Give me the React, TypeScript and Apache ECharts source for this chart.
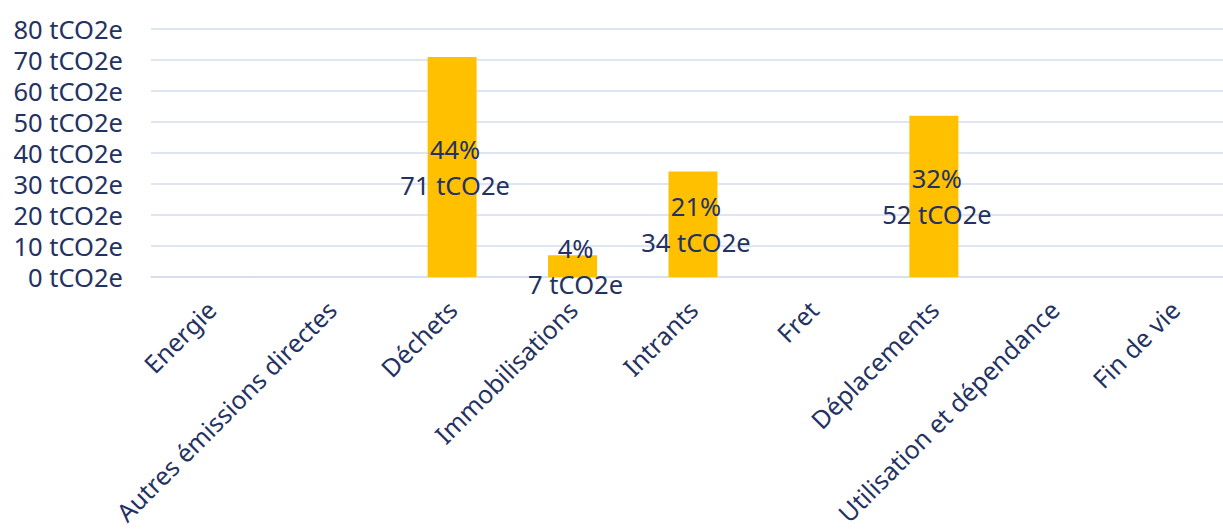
import React, { useEffect, useRef } from "react";
import * as echarts from "echarts";

const categories = [
  "Energie",
  "Autres émissions directes",
  "Déchets",
  "Immobilisations",
  "Intrants",
  "Fret",
  "Déplacements",
  "Utilisation et dépendance",
  "Fin de vie",
];
const values: (number | null)[] = [null, null, 71, 7, 34, null, 52, null, null];
const percents: (string | null)[] = [null, null, "44%", "4%", "21%", null, "32%", null, null];
const yTicks = [0, 10, 20, 30, 40, 50, 60, 70, 80];

const TEXT = "#243262";
const GRID = "#D6DCEE";
const BAR = "#FFC000";
const FONT = "Noto Sans";

export default function App() {
  const ref = useRef<HTMLDivElement>(null);
  useEffect(() => {
    if (!ref.current) return;
    const chart = echarts.init(ref.current, null, { renderer: "svg" });
    chart.setOption({
      animation: false,
      grid: {
        left: 151,
        right: 5,
        top: 29,
        bottom: 252,
        containLabel: false,
        outerBoundsMode: "none",
      },
      xAxis: {
        type: "category",
        data: categories,
        axisLine: { show: true, lineStyle: { color: GRID, width: 1.5 } },
        axisTick: { show: false },
        axisLabel: {
          rotate: 45,
          interval: 0,
          margin: 28,
          color: TEXT,
          fontFamily: FONT,
          fontSize: 25,
        },
      },
      yAxis: {
        type: "value",
        min: yTicks[0],
        max: yTicks[yTicks.length - 1],
        interval: 10,
        axisLine: { show: false },
        axisTick: { show: false },
        splitLine: { lineStyle: { color: GRID, width: 1.5 } },
        axisLabel: {
          margin: 28,
          color: TEXT,
          fontFamily: FONT,
          fontSize: 25.5,
          formatter: (v: number) => `${v} tCO2e`,
        },
      },
      series: [
        {
          type: "bar",
          data: values,
          barWidth: 49,
          itemStyle: { color: BAR },
          label: {
            show: true,
            position: "inside",
            offset: [3, 0],
            color: TEXT,
            fontFamily: FONT,
            fontSize: 25.5,
            lineHeight: 36,
            formatter: (p: any) =>
              p.value == null ? "" : `${percents[p.dataIndex]}\n${p.value} tCO2e`,
          },
        },
      ],
    });
    return () => chart.dispose();
  }, []);
  return (
    <div
      style={{ position: "absolute", left: 0, top: 0, width: 1223, height: 529, overflow: "hidden" }}
    >
      <div ref={ref} style={{ width: 1240, height: 529 }} />
    </div>
  );
}
